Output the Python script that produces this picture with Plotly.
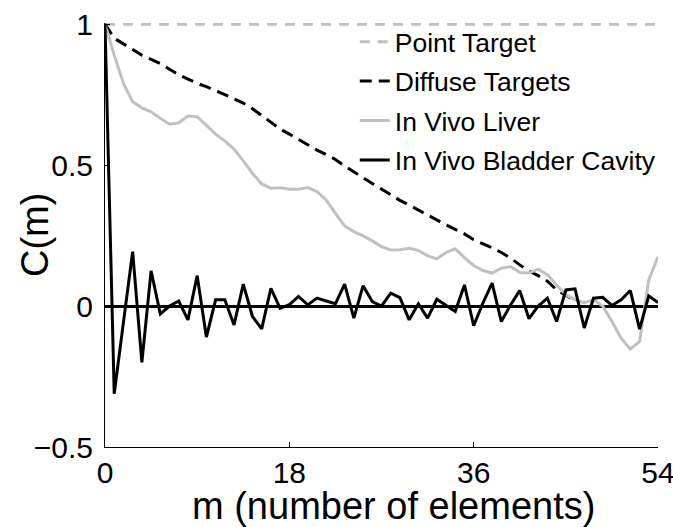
import plotly.graph_objects as go

# lag positions (m), sampled every 0.9 elements
m = [0.0, 0.9, 1.8, 2.7, 3.6, 4.5, 5.4, 6.3, 7.2, 8.1, 9.0, 9.9, 10.8, 11.7, 12.6,
     13.5, 14.4, 15.3, 16.2, 17.1, 18.0, 18.9, 19.8, 20.7, 21.6, 22.5, 23.4, 24.3,
     25.2, 26.1, 27.0, 27.9, 28.8, 29.7, 30.6, 31.5, 32.4, 33.3, 34.2, 35.1, 36.0,
     36.9, 37.8, 38.7, 39.6, 40.5, 41.4, 42.3, 43.2, 44.1, 45.0, 45.9, 46.8, 47.7,
     48.6, 49.5, 50.4, 51.3, 52.2, 53.1, 54.0]

point_m = [0, 54]
point_target = [1.0, 1.0]

diffuse_targets = [1.0, 0.95, 0.93, 0.91, 0.89, 0.875, 0.86, 0.84, 0.82, 0.805, 0.79,
                   0.778, 0.765, 0.75, 0.735, 0.72, 0.70, 0.675, 0.65, 0.628, 0.61,
                   0.59, 0.572, 0.553, 0.537, 0.52, 0.497, 0.475, 0.455, 0.435, 0.415,
                   0.394, 0.375, 0.358, 0.34, 0.322, 0.305, 0.288, 0.272, 0.256, 0.235,
                   0.222, 0.207, 0.19, 0.17, 0.146, 0.124, 0.108, 0.088, 0.057, 0.038,
                   0.02]

in_vivo_liver = [1.0, 0.89, 0.79, 0.725, 0.703, 0.689, 0.666, 0.645, 0.65, 0.674, 0.672,
                 0.642, 0.61, 0.585, 0.557, 0.515, 0.471, 0.433, 0.418, 0.42, 0.414,
                 0.414, 0.42, 0.406, 0.376, 0.329, 0.284, 0.264, 0.249, 0.231, 0.211,
                 0.199, 0.2, 0.205, 0.197, 0.178, 0.167, 0.19, 0.203, 0.172, 0.144,
                 0.126, 0.117, 0.134, 0.14, 0.119, 0.117, 0.131, 0.111, 0.075, 0.04,
                 0.022, 0.012, 0.022, 0.0, -0.055, -0.114, -0.153, -0.126, 0.093, 0.175]

in_vivo_bladder = [1.0, -0.311, -0.058, 0.193, -0.2, 0.125, -0.028, 0.0, 0.018, -0.049,
                   0.108, -0.11, 0.022, 0.022, -0.067, 0.078, -0.037, -0.081, 0.063,
                   -0.008, 0.005, 0.034, 0.004, 0.028, 0.018, 0.008, 0.078, -0.043,
                   0.072, 0.016, 0.0, 0.046, 0.03, -0.049, 0.008, -0.043, 0.024, 0.004,
                   -0.019, 0.075, -0.07, 0.01, 0.081, -0.055, 0.004, 0.055, -0.045, 0.0,
                   0.028, -0.055, 0.057, 0.061, -0.078, 0.028, 0.031, 0.002, 0.022,
                   0.055, -0.082, 0.036, 0.012]

x_ticks = [0, 18, 36, 54]
y_ticks = [-0.5, 0, 0.5, 1]
y_tick_text = ["\u22120.5", "0", "0.5", "1"]

GREY = "#c0c0c0"
FONT = "Liberation Sans, Arial, sans-serif"

fig = go.Figure()
fig.add_trace(go.Scatter(x=point_m, y=point_target, mode="lines", name="Point Target",
                         legendgroup="a",
                         line=dict(color=GREY, width=3, dash="10px,8px")))
fig.add_trace(go.Scatter(x=m[:len(diffuse_targets)], y=diffuse_targets, mode="lines",
                         name="Diffuse Targets", legendgroup="b",
                         line=dict(color="black", width=3, dash="12px,7px")))
fig.add_trace(go.Scatter(x=m, y=in_vivo_liver, mode="lines", name="In Vivo Liver",
                         legendgroup="c",
                         line=dict(color=GREY, width=3)))
fig.add_trace(go.Scatter(x=m, y=in_vivo_bladder, mode="lines",
                         name="In Vivo Bladder Cavity", legendgroup="d",
                         line=dict(color="black", width=3)))

fig.update_layout(
    width=673, height=527,
    margin=dict(l=105, r=15, t=23, b=80, pad=0, autoexpand=False),
    paper_bgcolor="white", plot_bgcolor="white",
    font=dict(family=FONT, size=30, color="black"),
    showlegend=True,
    legend=dict(x=1.005, xanchor="right", y=1.012, yanchor="top",
                bgcolor="rgba(0,0,0,0)", font=dict(size=26.5, family=FONT),
                itemwidth=30, tracegroupgap=2),
    annotations=[
        dict(text="C(m)", textangle=-90, xref="paper", yref="paper",
             x=-0.1266, y=0.5, xanchor="center", yanchor="middle",
             showarrow=False, font=dict(size=38, family=FONT)),
        dict(text="m (number of elements)", xref="paper", yref="paper",
             x=0.5226, y=-0.085, xanchor="center", yanchor="top",
             showarrow=False, font=dict(size=38, family=FONT)),
    ],
)

fig.update_xaxes(range=[0, 54], tickvals=x_ticks, ticktext=[str(v) for v in x_ticks],
                 showgrid=False, zeroline=False, showline=True, linecolor="black",
                 linewidth=1, ticks="inside", ticklen=5, tickcolor="black",
                 ticklabelstandoff=-1, ticklabeloverflow="allow", mirror=False)
fig.update_yaxes(range=[-0.5, 1.004], tickvals=y_ticks, ticktext=y_tick_text,
                 showgrid=False, zeroline=True, zerolinecolor="black", zerolinewidth=2.5,
                 showline=True, linecolor="black", linewidth=1, ticks="inside",
                 ticklen=5, tickcolor="black", ticklabelstandoff=5,
                 ticklabeloverflow="allow", mirror=False)

# remove the browser's default 8px body margin so the figure fills the window
fig.write_html("out.html", config={"displayModeBar": False},
               post_script="document.body.style.margin='0';"
                           "document.body.style.overflow='hidden';")
